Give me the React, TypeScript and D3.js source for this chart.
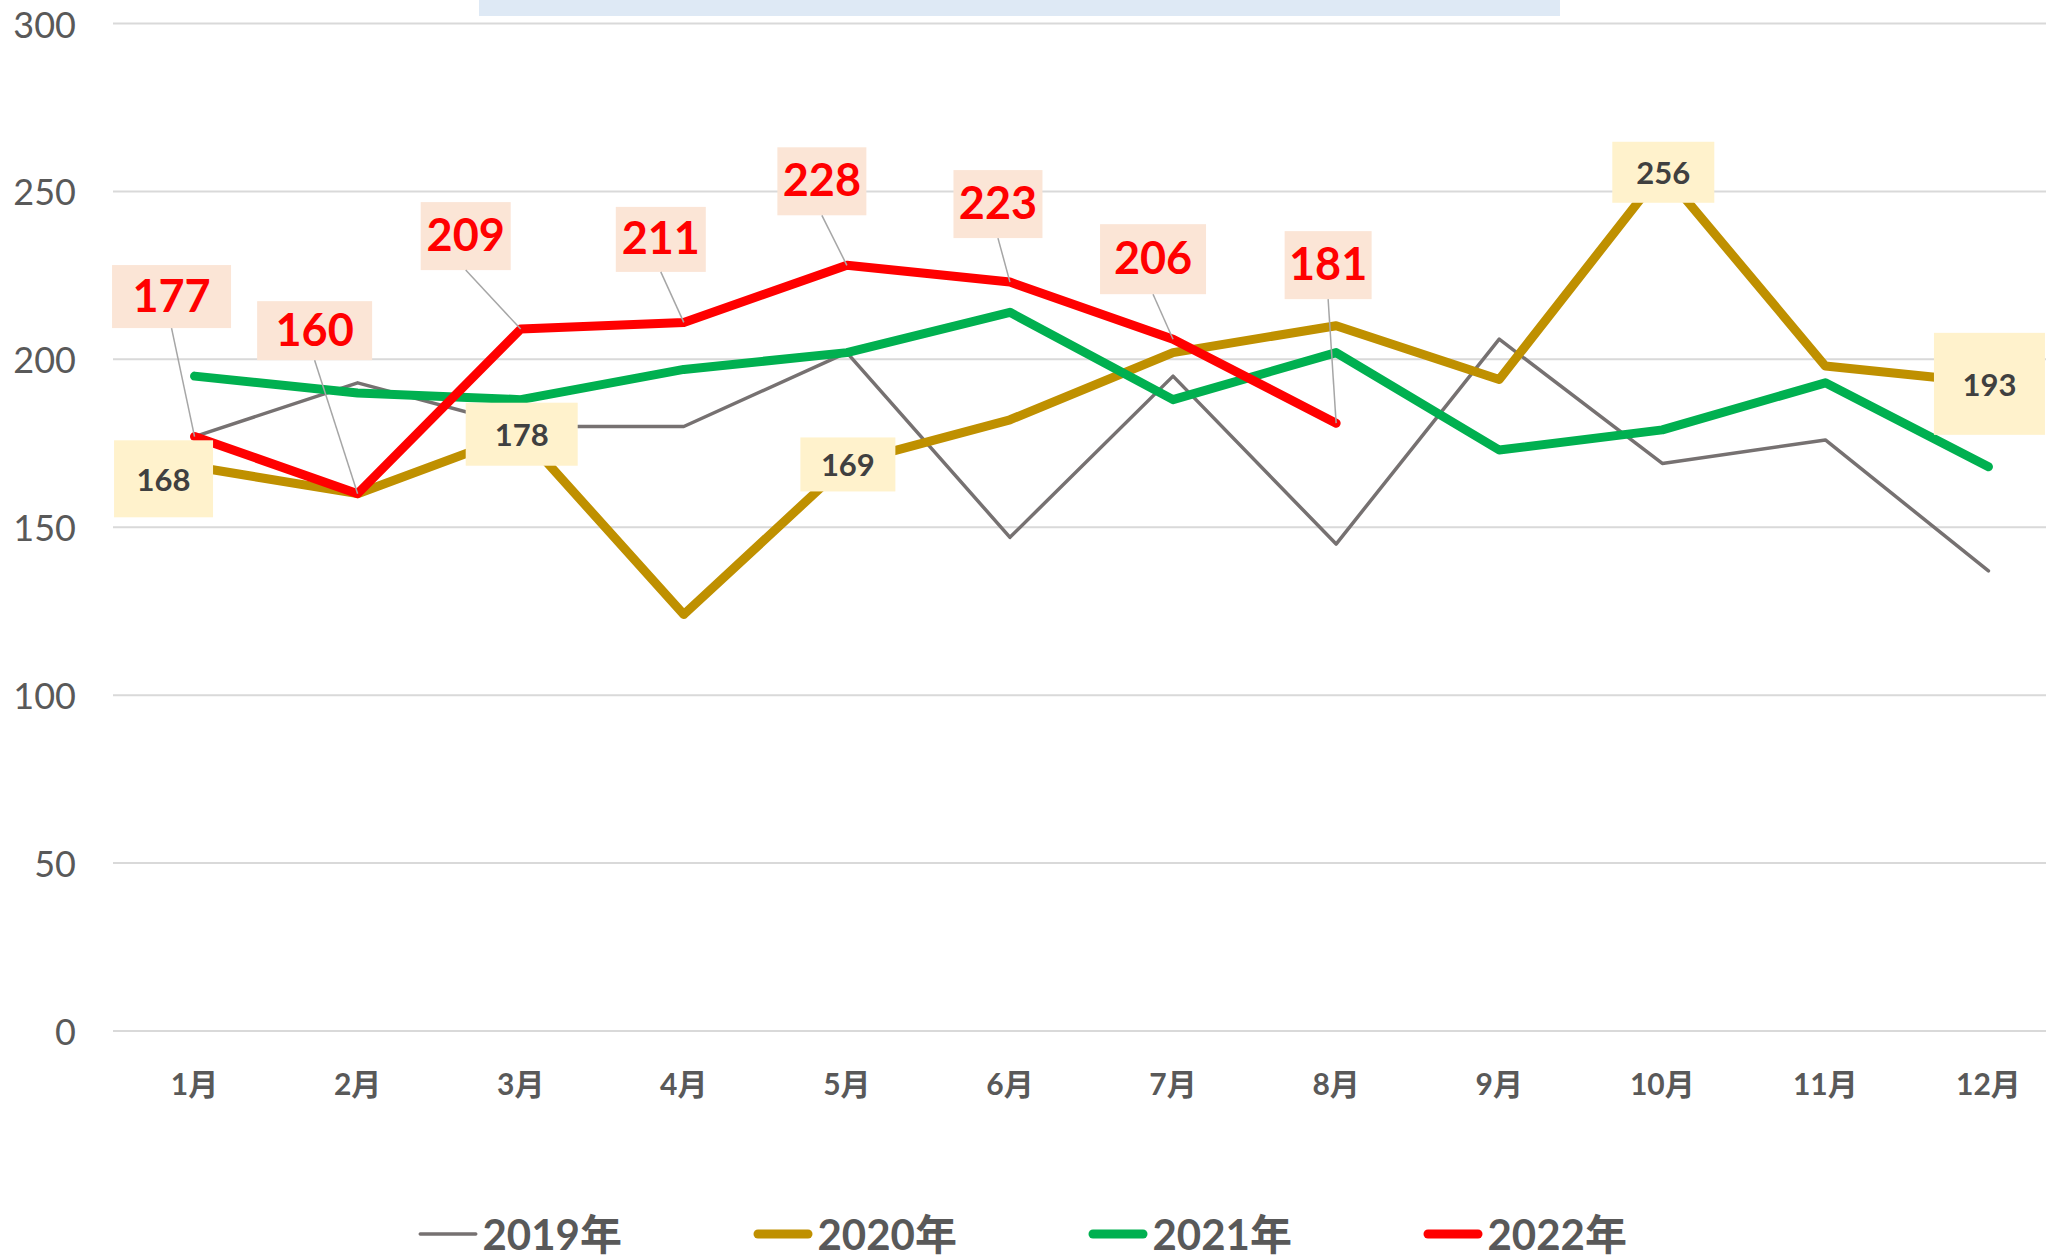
import React from "react"
import * as d3 from "d3"

const months = ["1月", "2月", "3月", "4月", "5月", "6月", "7月", "8月", "9月", "10月", "11月", "12月"]
const yTicks = [0, 50, 100, 150, 200, 250, 300]

const v2019 = [177, 193, 180, 180, 202, 147, 195, 145, 206, 169, 176, 137]
const v2020 = [168, 160, 178, 124, 169, 182, 202, 210, 194, 256, 198, 193]
const v2021 = [195, 190, 188, 197, 202, 214, 188, 202, 173, 179, 193, 168]
const v2022 = [177, 160, 209, 211, 228, 223, 206, 181]

const seriesNames = ["2019年", "2020年", "2021年", "2022年"]
// months of 2020 that carry a data label
const labeled2020 = [0, 2, 4, 9, 11]

const W = 2046
const H = 1258
const FONT = "Lato, 'Noto Sans CJK SC', sans-serif"

// label placement: text centre offset from the point, box size
const redLabelPos = [
  [-23, -140, 119, 63],
  [-43, -163, 115, 59],
  [-55, -93, 90, 68],
  [-23, -83, 90, 65],
  [-25, -84, 89, 68],
  [-12, -78, 89, 68],
  [-20, -80, 106, 70],
  [-8, -158, 87, 68],
]
const goldLabelPos = [
  [-31, 12, 99, 77],
  [1, 1, 112, 63],
  [1, 1, 95, 54],
  [1, 1, 102, 61],
  [1, 1, 111, 102],
]

export default function App() {
  const x = d3.scaleBand<string>().domain(months).range([113, 2070])
  const y = d3.scaleLinear().domain([0, 300]).range([1031, 23.5])
  const cx = (i: number) => (x(months[i]) as number) + x.bandwidth() / 2

  const line = d3
    .line<number>()
    .x((_, i) => cx(i))
    .y((d) => y(d))

  const series = [
    { name: seriesNames[0], values: v2019, color: "#767171", width: 3.5 },
    { name: seriesNames[1], values: v2020, color: "#bf9000", width: 9 },
    { name: seriesNames[2], values: v2021, color: "#00b050", width: 9 },
    { name: seriesNames[3], values: v2022, color: "#ff0000", width: 9 },
  ]

  const legendStep = 335
  const legendStart = W / 2 - (legendStep * 3 + 204) / 2

  return (
    <svg
      width={W}
      height={H}
      style={{ position: "absolute", left: 0, top: 0, background: "#fff" }}
      fontFamily={FONT}
    >
      <rect x={479} y={0} width={1081} height={16} fill="#dee9f5" />

      {/* gridlines + y labels */}
      {yTicks.map((t) => (
        <g key={t}>
          <line x1={113} x2={W} y1={y(t)} y2={y(t)} stroke="#d9d9d9" strokeWidth={2} />
          <text
            x={76}
            y={y(t)}
            textAnchor="end"
            dominantBaseline="central"
            fontSize={36}
            fill="#595959"
          >
            {t}
          </text>
        </g>
      ))}

      {/* x labels */}
      {months.map((m, i) => (
        <text
          key={m}
          x={cx(i)}
          y={1083}
          textAnchor="middle"
          dominantBaseline="central"
          fontSize={30}
          fontWeight="bold"
          fill="#595959"
        >
          {m}
        </text>
      ))}

      {/* lines */}
      {series.map((s) => (
        <path
          key={s.name}
          d={line(s.values) as string}
          fill="none"
          stroke={s.color}
          strokeWidth={s.width}
          strokeLinejoin="round"
          strokeLinecap="round"
        />
      ))}

      {/* 2022 labels with leader lines */}
      {v2022.map((v, i) => {
        const [dx, dy, bw, bh] = redLabelPos[i]
        const tx = cx(i) + dx
        const ty = y(v) + dy
        return (
          <g key={"r" + i}>
            <rect x={tx - bw / 2} y={ty - bh / 2} width={bw} height={bh} fill="#fbe5d6" />
            <line
              x1={tx}
              y1={ty + bh / 2}
              x2={cx(i)}
              y2={y(v)}
              stroke="#a6a6a6"
              strokeWidth={1.5}
            />
            <text
              x={tx}
              y={ty - 2}
              textAnchor="middle"
              dominantBaseline="central"
              fontSize={45}
              fontWeight="bold"
              fill="#ff0000"
            >
              {v}
            </text>
          </g>
        )
      })}

      {/* 2020 labels */}
      {labeled2020.map((mi, k) => {
        const v = v2020[mi]
        const [dx, dy, bw, bh] = goldLabelPos[k]
        const tx = cx(mi) + dx
        const ty = y(v) + dy
        return (
          <g key={"g" + mi}>
            <rect x={tx - bw / 2} y={ty - bh / 2} width={bw} height={bh} fill="#fff2cc" />
            <text
              x={tx}
              y={ty}
              textAnchor="middle"
              dominantBaseline="central"
              fontSize={31}
              fontWeight="bold"
              fill="#404040"
            >
              {v}
            </text>
          </g>
        )
      })}

      {/* legend */}
      {series.map((s, i) => {
        const lx = legendStart + i * legendStep
        const ly = 1234
        return (
          <g key={"l" + s.name}>
            <line
              x1={lx + s.width / 2}
              x2={lx + 59 - s.width / 2}
              y1={ly}
              y2={ly}
              stroke={s.color}
              strokeWidth={s.width}
              strokeLinecap="round"
            />
            <text
              x={lx + 64}
              y={ly}
              dominantBaseline="central"
              fontSize={42}
              fontWeight="bold"
              fill="#595959"
            >
              {s.name}
            </text>
          </g>
        )
      })}
    </svg>
  )
}
